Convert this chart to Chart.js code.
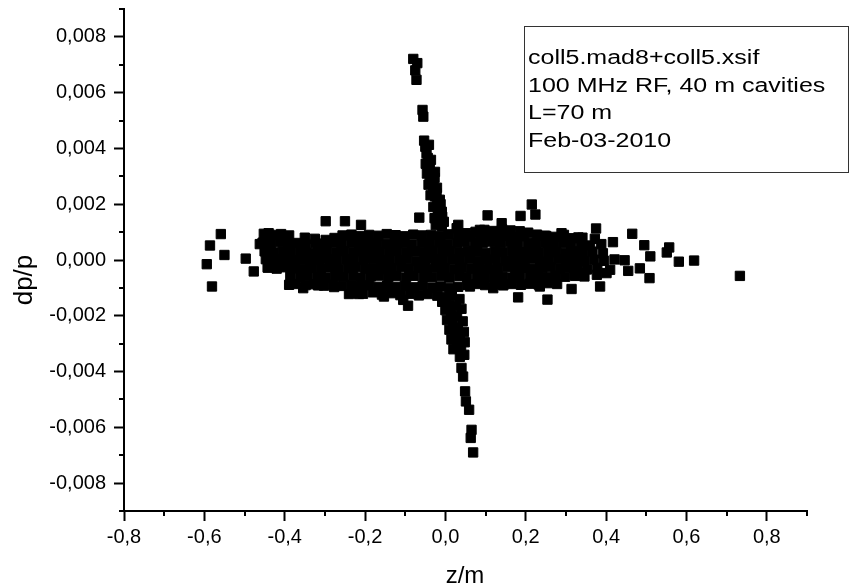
<!DOCTYPE html>
<html>
<head>
<meta charset="utf-8">
<title>dp/p vs z/m</title>
<script src="https://cdn.jsdelivr.net/npm/chart.js@4.4.1/dist/chart.umd.min.js"></script>
<style>
  html, body { margin: 0; padding: 0; background: #fff; }
  #wrap { width: 849px; height: 588px; }
</style>
</head>
<body>
<div id="wrap"><canvas id="chart" width="849" height="588"></canvas></div>
<script>
const FONT = '"Liberation Sans", Arial, sans-serif';

// text
const xTitle = 'z/m';
const yTitle = 'dp/p';
const noteLines = ['coll5.mad8+coll5.xsif', '100 MHz RF, 40 m cavities', 'L=70 m', 'Feb-03-2010'];

// axis ranges (major ticks every 0.2 / 0.002, minor halfway)
const xRange = [-0.8, 0.9];
const yRange = [-0.009, 0.009];

// points, [z, dp]
// dense core, upper half
const coreTop = [
  [-0.452,0.00094],[-0.431,0.00090],[-0.409,0.00093],[-0.389,0.00088],[-0.350,0.00080],[-0.325,0.00076],
  [-0.298,0.00072],[-0.276,0.00079],[-0.256,0.00088],[-0.234,0.00091],[-0.211,0.00086],[-0.190,0.00090],
  [-0.167,0.00087],[-0.146,0.00093],[-0.124,0.00089],[-0.102,0.00085],[-0.080,0.00091],[-0.058,0.00088],
  [-0.036,0.00090],[-0.013,0.00086],[0.008,0.00092],[0.031,0.00089],[0.052,0.00096],[0.075,0.00101],
  [0.097,0.00108],[0.118,0.00104],[0.141,0.00110],[0.162,0.00106],[0.185,0.00103],[0.206,0.00098],
  [0.228,0.00091],[0.251,0.00086],[0.273,0.00083],[0.295,0.00090],[0.317,0.00078],[0.341,0.00080],
  [0.372,0.00076],
  [0.063,0.00084],[0.086,0.00082],[0.108,0.00086],[0.130,0.00083],[0.152,0.00087],[0.174,0.00082],
  [0.196,0.00085],
  [-0.455,0.00062],[-0.434,0.00058],[-0.411,0.00064],[-0.391,0.00057],[-0.368,0.00061],[-0.347,0.00055],
  [-0.323,0.00060],[-0.302,0.00057],[-0.280,0.00063],[-0.259,0.00058],[-0.235,0.00061],[-0.214,0.00056],
  [-0.191,0.00062],[-0.170,0.00059],[-0.147,0.00057],[-0.126,0.00063],[-0.103,0.00060],[-0.083,0.00055],
  [-0.059,0.00061],[-0.039,0.00058],[-0.015,0.00063],[0.005,0.00057],[0.029,0.00060],[0.049,0.00064],
  [0.073,0.00059],[0.093,0.00062],[0.117,0.00066],[0.137,0.00061],[0.161,0.00064],[0.181,0.00058],
  [0.205,0.00062],[0.225,0.00059],[0.249,0.00061],[0.269,0.00056],[0.293,0.00060],[0.313,0.00055],
  [0.337,0.00058],[0.360,0.00052],[0.388,0.00057]
];

// dense core, middle
const coreMid = [
  [-0.450,0.00031],[-0.428,0.00027],[-0.405,0.00033],[-0.384,0.00028],[-0.361,0.00032],[-0.340,0.00026],
  [-0.317,0.00030],[-0.296,0.00034],[-0.273,0.00029],[-0.252,0.00032],[-0.229,0.00027],[-0.208,0.00031],
  [-0.185,0.00034],[-0.164,0.00028],[-0.141,0.00030],[-0.120,0.00033],[-0.097,0.00027],[-0.076,0.00031],
  [-0.053,0.00029],[-0.032,0.00034],[-0.009,0.00028],[0.012,0.00031],[0.035,0.00027],[0.056,0.00033],
  [0.079,0.00030],[0.100,0.00026],[0.123,0.00032],[0.144,0.00029],[0.167,0.00034],[0.188,0.00028],
  [0.211,0.00031],[0.232,0.00027],[0.255,0.00033],[0.276,0.00029],[0.299,0.00025],[0.320,0.00031],
  [0.343,0.00027],[0.366,0.00030],[0.392,0.00024],
  [-0.447,0.00003],[-0.425,-0.00002],[-0.403,0.00004],[-0.381,-0.00001],[-0.359,0.00002],[-0.337,-0.00003],
  [-0.315,0.00001],[-0.292,0.00004],[-0.271,-0.00002],[-0.248,0.00002],[-0.227,-0.00004],[-0.204,0.00001],
  [-0.183,0.00003],[-0.160,-0.00002],[-0.139,0.00002],[-0.116,-0.00001],[-0.095,0.00004],[-0.072,-0.00003],
  [-0.051,0.00001],[-0.028,0.00003],[-0.007,-0.00002],[0.016,0.00002],[0.037,-0.00001],[0.060,0.00003],
  [0.081,-0.00003],[0.104,0.00001],[0.125,0.00004],[0.148,-0.00002],[0.169,0.00002],[0.192,-0.00001],
  [0.213,0.00003],[0.236,-0.00003],[0.257,0.00001],[0.280,0.00004],[0.301,-0.00002],[0.324,0.00002],
  [0.346,-0.00004],[0.370,0.00001],[0.395,-0.00003],[0.421,0.00002],[0.446,-0.00001],
  [-0.442,-0.00027],[-0.420,-0.00031],[-0.398,-0.00026],[-0.376,-0.00030],[-0.354,-0.00033],[-0.332,-0.00028],
  [-0.310,-0.00031],[-0.287,-0.00027],[-0.266,-0.00032],[-0.243,-0.00029],[-0.222,-0.00026],[-0.199,-0.00031],
  [-0.178,-0.00028],[-0.155,-0.00033],[-0.134,-0.00029],[-0.111,-0.00026],[-0.090,-0.00031],[-0.067,-0.00028],
  [-0.046,-0.00033],[-0.023,-0.00027],[-0.002,-0.00030],[0.021,-0.00032],[0.042,-0.00027],[0.065,-0.00031],
  [0.086,-0.00028],[0.109,-0.00033],[0.130,-0.00029],[0.153,-0.00026],[0.174,-0.00031],[0.197,-0.00028],
  [0.218,-0.00033],[0.241,-0.00029],[0.262,-0.00026],[0.285,-0.00031],[0.306,-0.00027],[0.329,-0.00030],
  [0.352,-0.00034],[0.378,-0.00028]
];

// dense core, lower half
const coreBottom = [
  [-0.386,-0.00058],[-0.362,-0.00062],[-0.342,-0.00056],[-0.318,-0.00060],[-0.298,-0.00063],[-0.274,-0.00057],
  [-0.254,-0.00061],[-0.230,-0.00058],[-0.210,-0.00063],[-0.186,-0.00059],[-0.166,-0.00056],[-0.142,-0.00061],
  [-0.122,-0.00058],[-0.098,-0.00063],[-0.078,-0.00057],[-0.054,-0.00060],[-0.034,-0.00062],[-0.010,-0.00058],
  [0.010,-0.00063],[0.034,-0.00057],[0.054,-0.00061],[0.078,-0.00058],[0.098,-0.00062],[0.122,-0.00056],
  [0.142,-0.00060],[0.166,-0.00063],[0.186,-0.00057],[0.210,-0.00061],[0.230,-0.00058],[0.254,-0.00062],
  [0.274,-0.00056],[0.298,-0.00060],[0.321,-0.00054],[0.346,-0.00059],
  [-0.372,-0.00086],[-0.348,-0.00090],[-0.326,-0.00087],[-0.302,-0.00092],[-0.280,-0.00088],[-0.257,-0.00093],
  [-0.234,-0.00089],[-0.212,-0.00095],[-0.190,-0.00091],[-0.168,-0.00096],[-0.145,-0.00092],[-0.123,-0.00097],
  [-0.101,-0.00093],[-0.079,-0.00098],[-0.057,-0.00094],[-0.034,-0.00099],[-0.012,-0.00095],[0.010,-0.00100],
  [0.032,-0.00096],[0.055,-0.00089],[0.077,-0.00086],[0.099,-0.00090],[0.122,-0.00087],[0.144,-0.00091],
  [0.166,-0.00086],[0.188,-0.00089],[0.210,-0.00085],[0.232,-0.00088],[0.254,-0.00083],[0.278,-0.00086],
  [-0.228,-0.00118],[-0.205,-0.00121],[-0.180,-0.00116],[-0.158,-0.00124],[-0.134,-0.00119],[-0.112,-0.00126],
  [-0.088,-0.00121],[-0.066,-0.00127],[-0.043,-0.00122],[-0.020,-0.00128]
];

// scattered points around the core
const halo = [
  [-0.559,0.00093],[-0.586,0.00052],[-0.550,0.00018],[-0.594,-0.00015],[-0.581,-0.00095],[-0.497,0.00005],
  [-0.477,-0.00041],[-0.298,0.00139],[-0.250,0.00139],[-0.440,0.00096],[-0.462,0.00057],[-0.442,-0.00027],
  [-0.389,-0.00089],[-0.354,-0.00101],[-0.317,-0.00091],[-0.277,-0.00097],[-0.240,-0.00122],[-0.215,-0.00122],
  [-0.153,-0.00131],[-0.105,-0.00143],[-0.093,-0.00164],[-0.065,0.00152],[-0.210,0.00126],[-0.412,-0.00023],
  [0.215,0.00199],[0.224,0.00163],[0.105,0.00160],[0.187,0.00158],[0.375,0.00113],[0.465,0.00094],
  [0.417,0.00064],[0.495,0.00053],[0.557,0.00045],[0.510,0.00013],[0.551,0.00027],[0.581,-0.00006],
  [0.619,-0.00002],[0.733,-0.00057],[0.508,-0.00065],[0.484,-0.00030],[0.455,-0.00039],[0.385,-0.00095],
  [0.314,-0.00104],[0.254,-0.00142],[0.181,-0.00134],[0.289,0.00096],[0.331,0.00081],[0.248,0.00087],
  [0.032,0.00126],[0.410,-0.00035],[0.377,-0.00053],[0.323,-0.00057],[0.335,-0.00047],[0.401,-0.00047],
  [0.265,-0.00071],[0.235,-0.00095],[0.119,-0.00101],[0.061,-0.00095],[0.140,0.00132],[0.086,0.00108],
  [-0.014,0.00138],[0.028,0.00114]
];

// narrow streak going up
const upperStreak = [
  [-0.080,0.00721],[-0.070,0.00706],[-0.075,0.00680],[-0.072,0.00646],[-0.057,0.00538],[-0.055,0.00514],
  [-0.053,0.00428],[-0.050,0.00406],[-0.047,0.00383],[-0.044,0.00366],[-0.039,0.00347],[-0.041,0.00323],
  [-0.039,0.00299],[-0.034,0.00280],[-0.030,0.00263],[-0.029,0.00244],[-0.026,0.00228],[-0.021,0.00209],
  [-0.018,0.00192],[-0.019,0.00173],[-0.018,0.00156],[-0.014,0.00137],[-0.009,0.00120],
  [-0.041,0.00413],[-0.036,0.00359],[-0.026,0.00316],[-0.021,0.00259],[-0.014,0.00216],[-0.009,0.00173],
  [-0.004,0.00137],
  [-0.049,0.00345],[-0.046,0.00310],[-0.027,0.00295],[-0.042,0.00270],[-0.022,0.00240],[-0.037,0.00232],
  [-0.012,0.00200],[-0.030,0.00190],[-0.008,0.00155],[-0.027,0.00150],[-0.024,0.00125]
];

// narrow streak going down
const lowerStreak = [
  [0.001,-0.00132],[0.016,-0.00128],[0.009,-0.00161],[0.026,-0.00164],[0.014,-0.00193],[0.029,-0.00200],
  [0.019,-0.00229],[0.031,-0.00243],[0.024,-0.00265],[0.036,-0.00279],[0.029,-0.00304],[0.039,-0.00322],
  [0.036,-0.00347],[0.040,-0.00387],[0.044,-0.00418],[0.049,-0.00471],[0.051,-0.00507],[0.059,-0.00537],
  [0.065,-0.00609],[0.063,-0.00638],[0.069,-0.00690],
  [-0.008,-0.00150],[0.035,-0.00140],[0.000,-0.00180],[0.040,-0.00175],[0.004,-0.00215],[0.043,-0.00220],
  [0.010,-0.00250],[0.046,-0.00258],[0.015,-0.00285],[0.048,-0.00295],[0.020,-0.00320],[0.047,-0.00340]
];

const points = [...coreTop, ...coreMid, ...coreBottom, ...halo, ...upperStreak, ...lowerStreak]
  .map(([z, dp]) => ({ x: z, y: dp }));

const isMinorX = v => Math.abs(Math.round(v * 10)) % 2 === 1;
const isMinorY = v => Math.abs(Math.round(v * 1000)) % 2 === 1;

// Origin-style short minor ticks
const minorTicks = {
  id: 'minorTicks',
  afterDraw(chart) {
    const { ctx, chartArea } = chart;
    const { x, y } = chart.scales;
    ctx.save();
    ctx.strokeStyle = '#000';
    ctx.lineWidth = 2;
    ctx.beginPath();
    x.ticks.forEach(t => {
      if (!isMinorX(t.value)) return;
      const px = Math.round(x.getPixelForValue(t.value));
      ctx.moveTo(px, chartArea.bottom);
      ctx.lineTo(px, chartArea.bottom + 5);
    });
    y.ticks.forEach(t => {
      if (!isMinorY(t.value)) return;
      const py = Math.round(y.getPixelForValue(t.value));
      ctx.moveTo(chartArea.left, py);
      ctx.lineTo(chartArea.left - 5, py);
    });
    ctx.stroke();
    ctx.restore();
  }
};

// axis titles + the text box in the upper right
const annotations = {
  id: 'annotations',
  afterDraw(chart) {
    const { ctx } = chart;
    ctx.save();
    ctx.fillStyle = '#000';

    ctx.font = '24px ' + FONT;
    ctx.textAlign = 'center';
    ctx.textBaseline = 'alphabetic';
    ctx.fillText(xTitle, 465, 583);

    ctx.save();
    ctx.translate(32, 280);
    ctx.rotate(-Math.PI / 2);
    ctx.font = '26px ' + FONT;
    ctx.fillText(yTitle, 0, 0);
    ctx.restore();

    ctx.strokeStyle = '#333';
    ctx.lineWidth = 1;
    ctx.strokeRect(524.5, 26.5, 324, 146);

    ctx.font = '20px ' + FONT;
    ctx.textAlign = 'left';
    noteLines.forEach((line, i) => {
      ctx.save();
      ctx.translate(528, 64 + i * 27.6);
      ctx.scale(1.25, 1);
      ctx.fillText(line, 0, 0);
      ctx.restore();
    });
    ctx.restore();
  }
};

Chart.defaults.font.family = FONT;
Chart.defaults.color = '#000';

new Chart(document.getElementById('chart'), {
  type: 'scatter',
  data: {
    datasets: [{
      data: points,
      pointStyle: 'rect',
      pointRadius: 6.6,
      pointHoverRadius: 6.6,
      backgroundColor: '#000',
      borderColor: '#000',
      borderWidth: 1
    }]
  },
  options: {
    responsive: false,
    animation: false,
    events: [],
    layout: { padding: { top: 9, right: 42, left: 0, bottom: 0 } },
    plugins: {
      legend: { display: false },
      tooltip: { enabled: false }
    },
    scales: {
      x: {
        type: 'linear',
        min: xRange[0],
        max: xRange[1],
        afterFit: s => { s.height = 77; s.paddingLeft = 0; s.paddingRight = 0; },
        border: { display: true, color: '#000', width: 2 },
        grid: {
          drawOnChartArea: false,
          drawTicks: true,
          tickLength: 10,
          tickWidth: 2,
          tickColor: c => isMinorX(c.tick.value) ? 'rgba(0,0,0,0)' : '#000'
        },
        ticks: {
          stepSize: 0.1,
          autoSkip: false,
          maxRotation: 0,
          padding: 4,
          color: '#000',
          font: { size: 20 },
          callback: v => isMinorX(v) ? '' : (Math.round(v * 10) / 10).toFixed(1).replace('.', ',')
        }
      },
      y: {
        type: 'linear',
        min: yRange[0],
        max: yRange[1],
        afterFit: s => { s.width = 124; s.paddingTop = 0; s.paddingBottom = 0; },
        border: { display: true, color: '#000', width: 2 },
        grid: {
          drawOnChartArea: false,
          drawTicks: true,
          tickLength: 10,
          tickWidth: 2,
          tickColor: c => isMinorY(c.tick.value) ? 'rgba(0,0,0,0)' : '#000'
        },
        ticks: {
          stepSize: 0.001,
          autoSkip: false,
          padding: 8,
          color: '#000',
          font: { size: 20 },
          callback: v => isMinorY(v) ? '' : (Math.round(v * 1000) / 1000).toFixed(3).replace('.', ',')
        }
      }
    }
  },
  plugins: [minorTicks, annotations]
});
</script>
</body>
</html>
